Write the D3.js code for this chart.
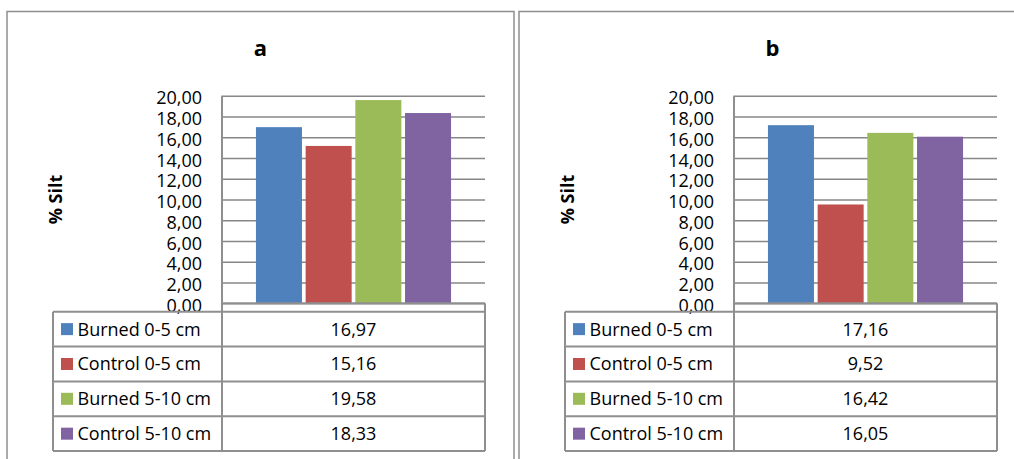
<!DOCTYPE html>
<html>
<head>
<meta charset="utf-8">
<script src="https://cdn.jsdelivr.net/npm/d3@7"></script>
<style>
  html, body { margin: 0; padding: 0; background: #fff; }
  svg { display: block; font-family: "Open Sans", "Noto Sans", sans-serif; }
</style>
</head>
<body>
<svg id="chart" width="1014" height="459"></svg>
<script>
// ---- data ----
const categories = ["Burned 0-5 cm", "Control 0-5 cm", "Burned 5-10 cm", "Control 5-10 cm"];
const panelTitles = ["a", "b"];
const valuesA = [16.97, 15.16, 19.58, 18.33];
const valuesB = [17.16, 9.52, 16.42, 16.05];
const valueLabelsA = ["16,97", "15,16", "19,58", "18,33"];
const valueLabelsB = ["17,16", "9,52", "16,42", "16,05"];
const yTicks = [0, 2, 4, 6, 8, 10, 12, 14, 16, 18, 20];
const yAxisTitle = "% Silt";
const seriesColors = ["#4F81BD", "#C0504D", "#9BBB59", "#8064A2"];

// ---- drawing ----
const svg = d3.select("#chart");
const locale = d3.formatLocale({ decimal: ",", thousands: ".", grouping: [3], currency: ["", ""] });
const fmt = locale.format(".2f");
const gridColor = "#878787";
const borderColor = "#8f8f8f";

const panels = [
  { ox: 7, title: panelTitles[0], values: valuesA, labels: valueLabelsA },
  { ox: 519, title: panelTitles[1], values: valuesB, labels: valueLabelsB }
];

panels.forEach(p => {
  const g = svg.append("g").attr("transform", `translate(${p.ox},0)`);

  // outer panel frame
  g.append("rect")
    .attr("x", 0).attr("y", 11.5).attr("width", 507).attr("height", 480)
    .attr("fill", "none").attr("stroke", borderColor).attr("stroke-width", 1.5);

  const plotL = 215, plotR = 478, plotT = 95.7, plotB = 303.3;

  // title
  g.append("text")
    .attr("x", 253.5).attr("y", 56)
    .attr("text-anchor", "middle")
    .attr("font-size", 22).attr("font-weight", "bold")
    .text(p.title);

  const y = d3.scaleLinear().domain([0, 20]).range([plotB, plotT]);
  const x = d3.scaleBand().domain(categories).range([plotL, plotR])
    .paddingInner(0.074).paddingOuter(0.683);

  // gridlines
  const grid = g.append("g").attr("transform", `translate(${plotL},0)`)
    .call(d3.axisLeft(y).tickValues(yTicks).tickSize(-(plotR - plotL)).tickFormat(""));
  grid.select(".domain").remove();
  grid.selectAll(".tick line").attr("stroke", gridColor).attr("stroke-width", 1.6);

  // tick labels
  const lab = g.append("g").attr("transform", `translate(${plotL - 20},0)`)
    .call(d3.axisLeft(y).tickValues(yTicks).tickSize(0).tickPadding(0).tickFormat(fmt));
  lab.select(".domain").remove();
  lab.selectAll(".tick text")
    .attr("font-family", "'Open Sans', sans-serif")
    .attr("font-size", 18).attr("fill", "#000").attr("dy", "0.45em");

  // bars
  g.append("g").selectAll("rect.bar")
    .data(categories.map((c, i) => ({ c, v: p.values[i], col: seriesColors[i] })))
    .join("rect")
    .attr("class", "bar")
    .attr("x", d => x(d.c))
    .attr("width", x.bandwidth())
    .attr("y", d => y(d.v))
    .attr("height", d => y(0) - y(d.v))
    .attr("fill", d => d.col);

  // axis title
  g.append("text")
    .attr("transform", `translate(${55},${(plotT + plotB) / 2}) rotate(-90)`)
    .attr("text-anchor", "middle")
    .attr("font-size", 18).attr("font-weight", "bold")
    .text(yAxisTitle);

  // data table
  const tL = 46, tM = plotL, tR = plotR, tT = 311.7, rowH = 34.85;
  const rows = d3.scaleBand().domain(categories).range([tT, tT + rowH * categories.length]);
  const tableLines = g.append("g").attr("stroke", borderColor).attr("stroke-width", 2).attr("fill", "none");

  // axis line (vertical) and bottom of plot
  tableLines.append("line").attr("x1", plotL).attr("x2", plotL).attr("y1", plotT).attr("y2", tT + rowH * 4);
  tableLines.append("line").attr("x1", plotL).attr("x2", plotR).attr("y1", plotB).attr("y2", plotB);
  tableLines.append("line").attr("x1", tR).attr("x2", tR).attr("y1", plotB).attr("y2", tT + rowH * 4);
  tableLines.append("line").attr("x1", tL).attr("x2", tL).attr("y1", tT).attr("y2", tT + rowH * 4);
  // row lines
  tableLines.selectAll("line.row")
    .data(d3.range(categories.length + 1))
    .join("line").attr("class", "row")
    .attr("x1", tL).attr("x2", tR)
    .attr("y1", i => tT + i * rowH).attr("y2", i => tT + i * rowH);

  const rowG = g.append("g").selectAll("g")
    .data(categories.map((c, i) => ({ c, lab: p.labels[i], col: seriesColors[i] })))
    .join("g")
    .attr("transform", d => `translate(0,${rows(d.c) + rows.bandwidth() / 2})`);

  rowG.append("rect")
    .attr("x", tL + 8).attr("y", -6).attr("width", 12).attr("height", 12)
    .attr("fill", d => d.col);
  rowG.append("text")
    .attr("x", tL + 24.5).attr("y", 0).attr("dy", "0.36em")
    .attr("font-size", 18).attr("fill", "#000")
    .text(d => d.c);
  rowG.append("text")
    .attr("x", (tM + tR) / 2).attr("y", 0).attr("dy", "0.36em")
    .attr("text-anchor", "middle")
    .attr("font-size", 18).attr("fill", "#000")
    .text(d => d.lab);
});
</script>
</body>
</html>
